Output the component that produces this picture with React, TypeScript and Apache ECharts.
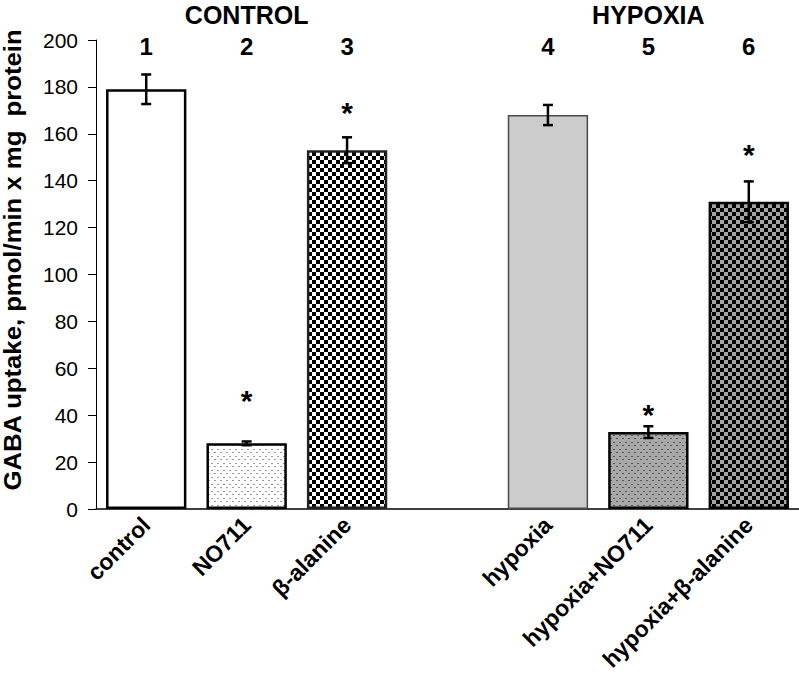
import React, { useEffect, useRef } from 'react';
import * as echarts from 'echarts';

const categories = ['control', 'NO711', 'β-alanine', '', 'hypoxia', 'hypoxia+NO711', 'hypoxia+β-alanine'];
const groupNumbers = ['1', '2', '3', '', '4', '5', '6'];
const groupTitles = ['', 'CONTROL', '', '', '', 'HYPOXIA', ''];
const means: (number | null)[] = [179, 28, 153, null, 168, 32.8, 131];
const errors: (number | null)[] = [6.3, 0.8, 5.5, null, 4.3, 2.5, 8.7];
const asteriskLevels: (number | null)[] = [null, 47.8, 171, null, null, 41.8, 152.7];
const fillKinds = ['plain', 'dots', 'checker', '', 'grey', 'greyDots', 'greyChecker'];
const yMin = 0;
const yMax = 200;
const yStep = 20;
const yTitle = 'GABA uptake, pmol/min x mg  protein';

const FONT = 'Arial, "Liberation Sans", sans-serif';

function checker(c1: string, c2: string, s: number) {
  const cv = document.createElement('canvas');
  cv.width = s * 2;
  cv.height = s * 2;
  const ctx = cv.getContext('2d')!;
  ctx.fillStyle = c2;
  ctx.fillRect(0, 0, s * 2, s * 2);
  ctx.fillStyle = c1;
  ctx.fillRect(0, 0, s, s);
  ctx.fillRect(s, s, s, s);
  return cv;
}

function dots(bg: string, dot: string) {
  const cv = document.createElement('canvas');
  cv.width = 6;
  cv.height = 7;
  const ctx = cv.getContext('2d')!;
  ctx.fillStyle = bg;
  ctx.fillRect(0, 0, 6, 7);
  ctx.fillStyle = dot;
  ctx.fillRect(1, 1, 2, 1);
  ctx.fillRect(4, 4, 2, 1);
  return cv;
}

export default function App() {
  const ref = useRef<HTMLDivElement>(null);
  useEffect(() => {
    document.body.style.margin = '0';
    const chart = echarts.init(ref.current!, undefined, { renderer: 'svg' });
    const pat = (cv: HTMLCanvasElement) => ({ image: cv, repeat: 'repeat' as const });
    const styleFor: Record<string, any> = {
      plain: { color: '#ffffff', borderColor: '#000', borderWidth: 2.5 },
      dots: { color: pat(dots('#ffffff', '#9a9a9a')), borderColor: '#000', borderWidth: 2.5 },
      checker: { color: pat(checker('#000000', '#ffffff', 4)), borderColor: '#222', borderWidth: 2.5 },
      grey: { color: '#cccccc', borderColor: '#4a4a4a', borderWidth: 1.5 },
      greyDots: { color: pat(dots('#a8a8a8', '#555555')), borderColor: '#000', borderWidth: 2.5 },
      greyChecker: { color: pat(checker('#000000', '#a3a3a3', 4)), borderColor: '#000', borderWidth: 2.5 },
    };
    const barData = means.map((v, i) =>
      v == null ? '-' : { value: v, itemStyle: styleFor[fillKinds[i]] }
    );
    const errData: any[] = [];
    means.forEach((v, i) => {
      if (v != null) errData.push([i, v, errors[i], asteriskLevels[i] == null ? -1 : asteriskLevels[i]]);
    });
    const topLabels = groupNumbers.map((n, i) =>
      groupTitles[i] ? `{g|${groupTitles[i]}}\n{n|${n}}` : `{n|${n}}`
    );
    chart.setOption({
      animation: false,
      grid: { left: 96, right: 0, top: 40, bottom: 172, containLabel: false },
      xAxis: [
        {
          type: 'category',
          data: categories,
          position: 'bottom',
          axisLine: { lineStyle: { color: '#000', width: 1.5 } },
          axisTick: { show: false },
          axisLabel: {
            interval: 0,
            rotate: 45,
            margin: 12,
            color: '#000',
            fontFamily: FONT,
            fontWeight: 'bold',
            fontSize: 23,
          },
        },
        {
          type: 'category',
          data: topLabels,
          position: 'top',
          axisLine: { show: false },
          axisTick: { show: false },
          axisLabel: {
            interval: 0,
            margin: -18,
            color: '#000',
            fontFamily: FONT,
            rich: {
              g: { fontSize: 25, fontWeight: 'bold', lineHeight: 38, fontFamily: FONT, color: '#000' },
              n: { fontSize: 24, fontWeight: 'bold', lineHeight: 24, fontFamily: FONT, color: '#000' },
            },
          },
        },
      ],
      yAxis: {
        type: 'value',
        min: yMin,
        max: yMax,
        interval: yStep,
        axisLine: { show: true, lineStyle: { color: '#000', width: 1 } },
        axisTick: { show: true, length: 8, lineStyle: { color: '#000' } },
        splitLine: { show: false },
        axisLabel: { margin: 18, color: '#000', fontFamily: FONT, fontSize: 21 },
      },
      graphic: [
        {
          type: 'text',
          x: 13,
          y: 260,
          rotation: Math.PI / 2,
          scaleX: 1.07,
          style: {
            text: yTitle,
            fontFamily: FONT,
            fontWeight: 'bold',
            fontSize: 24,
            fill: '#000',
            align: 'center',
            verticalAlign: 'middle',
          },
        },
      ],
      series: [
        {
          type: 'bar',
          data: barData,
          barWidth: '80%',
          xAxisIndex: 0,
        },
        {
          type: 'custom',
          xAxisIndex: 0,
          data: errData,
          encode: { x: 0, y: 1 },
          z: 5,
          renderItem: (params: any, api: any) => {
            const x = api.value(0);
            const m = api.value(1);
            const e = api.value(2);
            const s = api.value(3);
            const top = api.coord([x, m + e]);
            const bot = api.coord([x, m - e]);
            const cw = 5;
            const children: any[] = [
              { type: 'line', shape: { x1: top[0], y1: top[1], x2: bot[0], y2: bot[1] }, style: { stroke: '#000', lineWidth: 2.5 } },
              { type: 'line', shape: { x1: top[0] - cw, y1: top[1], x2: top[0] + cw, y2: top[1] }, style: { stroke: '#000', lineWidth: 2.5 } },
              { type: 'line', shape: { x1: bot[0] - cw, y1: bot[1], x2: bot[0] + cw, y2: bot[1] }, style: { stroke: '#000', lineWidth: 2.5 } },
            ];
            if (s >= 0) {
              const p = api.coord([x, s]);
              children.push({
                type: 'text',
                x: p[0],
                y: p[1] + 4,
                style: {
                  text: '*',
                  fontFamily: FONT,
                  fontWeight: 'bold',
                  fontSize: 30,
                  fill: '#000',
                  align: 'center',
                  verticalAlign: 'middle',
                },
              });
            }
            return { type: 'group', children };
          },
        },
      ],
    });
    return () => chart.dispose();
  }, []);
  return <div ref={ref} style={{ width: 799, height: 681 }} />;
}
